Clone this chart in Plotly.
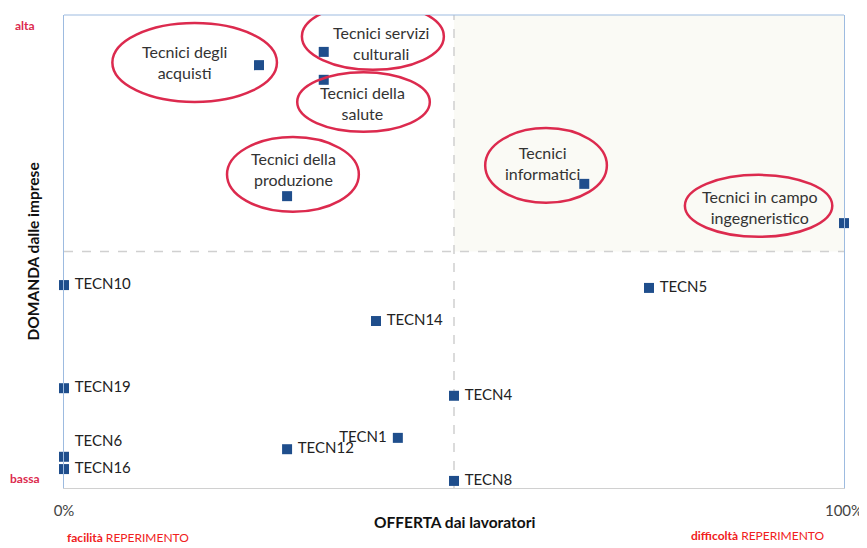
import plotly.graph_objects as go

# punti: offerta (x, % difficoltà) e domanda (y, 0-100)
codici = ["Tecnici degli acquisti", "Tecnici servizi culturali", "Tecnici della salute",
          "Tecnici della produzione", "Tecnici informatici", "Tecnici in campo ingegneristico",
          "TECN10", "TECN5", "TECN14", "TECN19", "TECN4", "TECN1", "TECN12", "TECN6",
          "TECN16", "TECN8"]
offerta = [25.0, 33.3, 33.3, 28.6, 66.7, 100.0, 0.0, 75.0, 40.0, 0.0, 50.0, 42.8, 28.6, 0.0, 0.0, 50.0]
domanda = [89.4, 92.2, 86.3, 61.7, 64.3, 56.0, 42.9, 42.3, 35.3, 21.1, 19.5, 10.6, 8.2, 6.6, 4.0, 1.5]
etichette = ["", "", "", "", "", "",
             "TECN10", "TECN5", "TECN14", "TECN19", "TECN4", "TECN1", "TECN12", "TECN6",
             "TECN16", "TECN8"]
pos_etichette = ["middle right"] * 6 + ["middle right", "middle right", "middle right",
                 "middle right", "middle right", "middle left", "middle right", "top right",
                 "middle right", "middle right"]

# profili evidenziati (testo dentro l'ellisse)
evidenziati = ["Tecnici degli<br>acquisti", "Tecnici servizi<br>culturali", "Tecnici della<br>salute",
               "Tecnici della<br>produzione", "Tecnici<br>informatici", "Tecnici in campo<br>ingegneristico"]
ellissi = [(6.2, 27.3, 81.6, 98.3, 15.5, 90.1),
           (30.5, 48.7, 88.4, 102.5, 40.6, 94.1),
           (29.9, 46.9, 75.3, 87.9, 38.3, 81.4),
           (20.9, 37.8, 58.4, 74.2, 29.4, 67.4),
           (54.0, 69.6, 60.3, 76.1, 61.4, 68.7),
           (79.6, 98.5, 53.1, 66.2, 89.2, 59.4)]

FONT = "Lato"
ROSSO = "#dc2a4e"

# un po' di spazio tra quadratino ed etichetta
testi = [(" " + e if p.endswith("right") else e + " ") if e else ""
         for e, p in zip(etichette, pos_etichette)]

fig = go.Figure()
fig.add_trace(go.Scatter(
    x=offerta, y=domanda, mode="markers+text",
    text=testi, textposition=pos_etichette,
    textfont=dict(family=FONT, size=15, color="#222222"),
    marker=dict(symbol="square", size=10, color="#1f4e8c"),
    hovertext=codici, hoverinfo="text",
    cliponaxis=False, showlegend=False))

shapes = [
    dict(type="rect", xref="x", yref="y", x0=50, x1=100, y0=50, y1=100,
         fillcolor="#fafaf5", line=dict(width=0), layer="below"),
    dict(type="line", xref="x", yref="y", x0=50, x1=50, y0=0, y1=100,
         line=dict(color="#d0d0d0", width=1.5, dash="dash"), layer="below"),
    dict(type="line", xref="x", yref="y", x0=0, x1=100, y0=50, y1=50,
         line=dict(color="#d0d0d0", width=1.5, dash="dash"), layer="below"),
    dict(type="line", xref="paper", yref="paper", x0=0, x1=1, y0=1, y1=1,
         line=dict(color="#9dbbe0", width=1)),
]
annotations = []
for testo, (x0, x1, y0, y1, tx, ty) in zip(evidenziati, ellissi):
    shapes.append(dict(type="circle", xref="x", yref="y", x0=x0, x1=x1, y0=y0, y1=y1,
                       line=dict(color=ROSSO, width=2.5)))
    annotations.append(dict(x=tx, y=ty, xref="x", yref="y", text=testo, showarrow=False,
                            font=dict(family=FONT, size=16, color="#333333")))


def nota(x, y, testo, dx, dy, size, color, angle=0):
    return dict(x=x, y=y, xref="paper", yref="paper", xshift=dx, yshift=dy, text=testo,
                xanchor="center", yanchor="middle", textangle=angle, showarrow=False,
                font=dict(family=FONT, size=size, color=color))


annotations += [
    nota(0, 1, "<b>alta</b>", -39, -10, 12, ROSSO),
    nota(0, 0, "<b>bassa</b>", -39, 10, 12, ROSSO),
    nota(0, 0.5, "<b>DOMANDA dalle imprese</b>", -32, 0, 15.5, "#111111", -90),
    nota(0.5, 0, "<b>OFFERTA dai lavoratori</b>", 0, -34, 15.5, "#111111"),
    nota(0, 0, "<b>facilità</b> REPERIMENTO", 64, -49, 12, "#f02020"),
    nota(1, 0, "<b>difficoltà</b> REPERIMENTO", -86, -47, 12, "#f02020"),
]

# la pagina ha un margine di 8px attorno alla figura
fig.update_layout(
    width=859, height=540,
    margin=dict(l=56, r=23, t=7, b=60, autoexpand=False),
    paper_bgcolor="white", plot_bgcolor="white",
    font=dict(family=FONT),
    shapes=shapes, annotations=annotations,
    xaxis=dict(range=[0, 100], tickvals=[0, 100], ticktext=["0%", "100%"],
               showgrid=False, zeroline=False, showline=True, linecolor="#d0d0d0",
               ticks="outside", ticklen=9, tickcolor="rgba(0,0,0,0)",
               tickfont=dict(family=FONT, size=15, color="#444444")),
    yaxis=dict(range=[0, 100], showticklabels=False, showgrid=False, zeroline=False,
               showline=True, linecolor="#9dbbe0", mirror=True),
)

fig.write_html("out.html")
